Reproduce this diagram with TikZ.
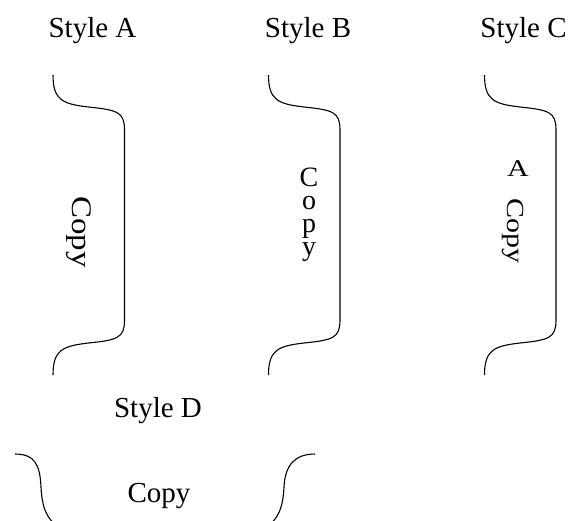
\documentclass[tikz,border=0pt]{standalone}
\usepackage{fontspec}
\setmainfont{Liberation Serif}
\tikzset{
	title/.style={font=\fontsize{29}{34}\selectfont, anchor=base, inner sep=0pt},
	inner/.style={font=\fontsize{#1}{34}\selectfont, inner sep=0pt},
	rule/.style={line width=1.1pt}
}
\newcommand{\sideBrace}[2][]{
	\draw[rule, #1] (#2-71.5,75) .. controls (#2-71.5,100) and (#2-62,104) .. (#2-36,107) .. controls (#2-7,110) and (#2,112) .. (#2,130) -- (#2,320) .. controls (#2,338) and (#2-7,340) .. (#2-36,343) .. controls (#2-62,346) and (#2-71.5,350) .. (#2-71.5,375);
}
\newcommand{\lowCurve}[4][]{
	\draw[rule, #1] (#2,454) .. controls (#2+20*#4,454) and (#3-1*#4,465) .. (#3,487) .. controls (#3+1*#4,508) and (#3+6*#4,520) .. (#3+19*#4,528);
}

\begin{document}
\begin{tikzpicture}[x=1pt, y=-1pt]
	\useasboundingbox (0,0) rectangle (576,520);

	\node[title] (styleA) at (92.5,37) {Style A};
	\node[title] (styleB) at (308,37) {Style B};
	\node[title] (styleC) at (523.5,37) {Style C};
	\node[title] (styleD) at (158,417) {Style D};

	\sideBrace{124.5};
	\sideBrace{340};
	\sideBrace{556};

	\node[inner=33, rotate=-90, yscale=.86] (copyA) at (79,232) {Copy};
	\node[font=\fontsize{28}{21}\selectfont, align=center, inner sep=0pt] (copyB) at (309,215) {C\\[2pt]o\\[2pt]p\\[2pt]y};
	\node[inner=30, yscale=.8] (letterC) at (518,169) {A};
	\node[inner=30, rotate=-90, yscale=.82] (copyC) at (513,231) {Copy};

	\lowCurve{15}{41}{1};
	\lowCurve{315}{284}{-1};
	\node[title] (copyD) at (159,502) {Copy};
\end{tikzpicture}
\end{document}
